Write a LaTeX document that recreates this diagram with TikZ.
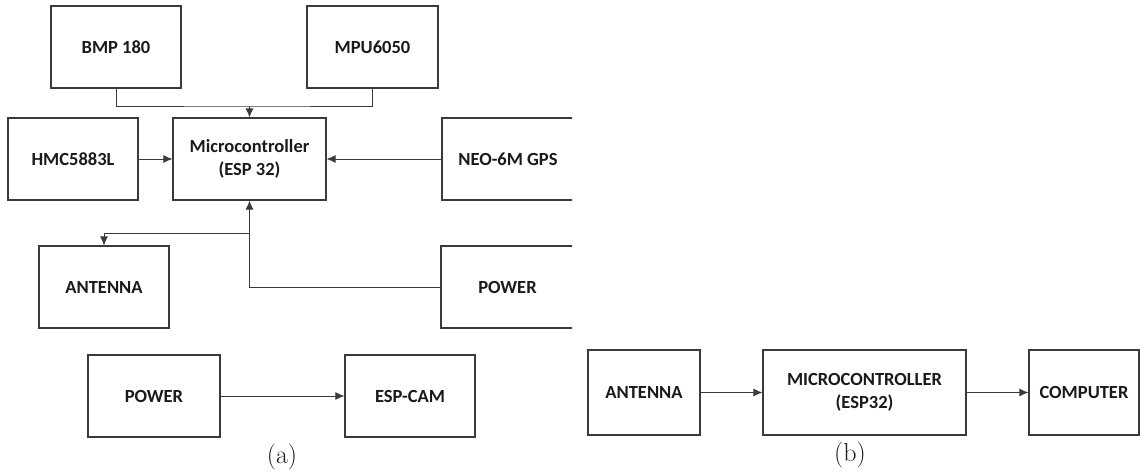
\documentclass[tikz,border=0pt]{standalone}
\usepackage{fontspec}
\setsansfont{Carlito}
\usetikzlibrary{arrows.meta}
\definecolor{linec}{HTML}{3A3A3A}
\definecolor{txtc}{HTML}{1A1A1A}
\tikzset{
  blk/.style={draw=linec, line width=1.1pt, fill=white, inner sep=0pt, align=center,
    text=txtc, font=\sffamily\bfseries\fontsize{18.5}{23}\selectfont},
  conn/.style={draw=linec, line width=1pt},
  arr/.style={conn, -{Latex[length=9pt,width=8pt]}},
  sublabel/.style={font=\fontsize{26}{30}\selectfont, text=txtc, inner sep=0pt}
}
\begin{document}
\begin{tikzpicture}[x=1pt,y=-1pt]
\useasboundingbox (0,0) rectangle (1140,471);
% (a)
\node[blk, minimum width=130pt, minimum height=82pt] (bmp) at (116,47) {BMP 180};
\node[blk, minimum width=131pt, minimum height=82pt] (mpu) at (372.5,47) {MPU6050};
\node[blk, minimum width=130pt, minimum height=82pt] (hmc) at (73,159) {HMC5883L};
\node[blk, minimum width=153pt, minimum height=82pt] (mcu) at (249.5,159) {Microcontroller\\(ESP 32)};
\begin{scope}
\clip (0,0) rectangle (572,471);
\node[blk, minimum width=132pt, minimum height=82pt] (neo) at (508,159) {NEO-6M GPS};
\node[blk, minimum width=133pt, minimum height=82pt] (pwr) at (507.5,287) {POWER};
\end{scope}
\node[blk, minimum width=130pt, minimum height=82pt] (ant) at (104,287) {ANTENNA};
\node[blk, minimum width=132pt, minimum height=82pt] (pwrb) at (154,396) {POWER};
\node[blk, minimum width=130pt, minimum height=82pt] (cam) at (410,396) {ESP-CAM};
\node[sublabel] (capa) at (282,457) {(a)};
\coordinate (join) at (249.5,106);
\coordinate (br) at (249.5,233);
\draw[conn] (bmp.south) |- (join) -| (mpu.south);
\draw[arr] (join) -- (mcu.north);
\draw[arr] (hmc.east) -- (mcu.west);
\draw[arr] (neo.west) -- (mcu.east);
\draw[arr] (pwr.west) -| (mcu.south);
\draw[arr] (br) -| (ant.north);
\draw[arr] (pwrb.east) -- (cam.west);
% (b)
\node[blk, minimum width=112pt, minimum height=85pt] (antb) at (644,392.5) {ANTENNA};
\node[blk, minimum width=203pt, minimum height=85pt] (mcub) at (864.5,392.5) {MICROCONTROLLER\\(ESP32)};
\node[blk, minimum width=110pt, minimum height=85pt] (comp) at (1084,392.5) {COMPUTER};
\node[sublabel] (capb) at (850,455) {(b)};
\draw[arr] (antb.east) -- (mcub.west);
\draw[arr] (mcub.east) -- (comp.west);
\end{tikzpicture}
\end{document}
